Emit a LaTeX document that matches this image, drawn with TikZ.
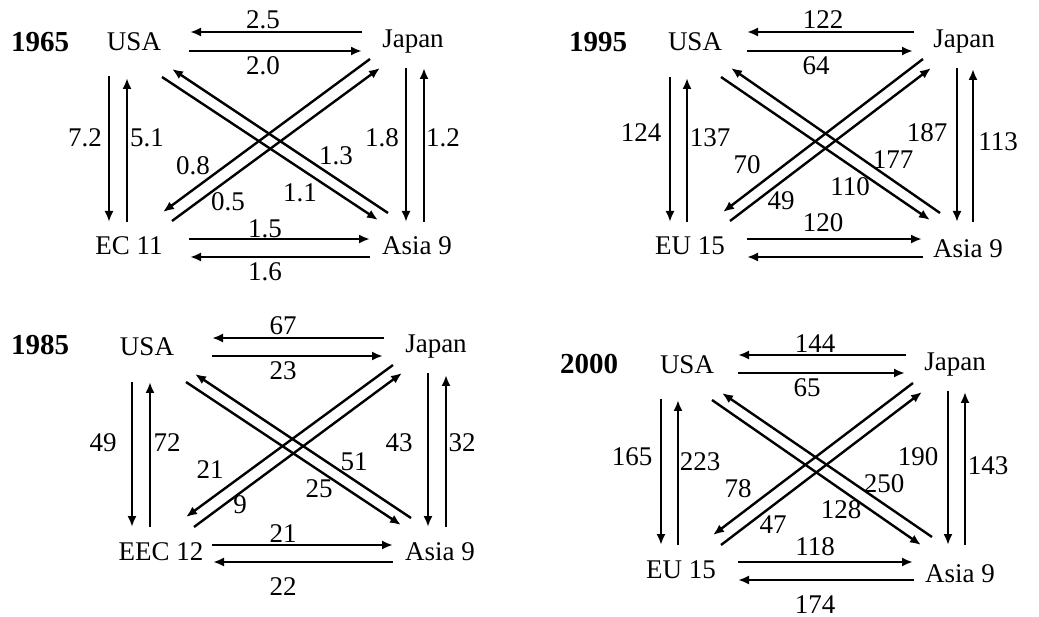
\documentclass[tikz,border=0pt]{standalone}
\usepackage{fontspec}
\setmainfont{Liberation Serif}
\usetikzlibrary{arrows.meta}
\tikzset{
  flowarrow/.style={line width=2.4pt,-{Latex[length=11pt,width=9pt]}},
  lbl/.style={anchor=base,inner sep=0pt,font=\fontsize{27}{30}\selectfont},
  yr/.style={anchor=base,inner sep=0pt,font=\fontsize{29}{32}\selectfont\bfseries}
}
\newcommand\flow[3]{\coordinate (#1s) at (#2); \coordinate (#1e) at (#3); \draw[flowarrow] (#1s) -- (#1e);}
\begin{document}
\begin{tikzpicture}[x=1pt,y=-1pt]
\useasboundingbox (0,0) rectangle (1039,617);
% ---------- 1965 ----------
\node[yr] (y1) at (40,52) {1965};
\node[lbl] (usa1) at (134,51) {USA};
\node[lbl] (jap1) at (413,48) {Japan};
\node[lbl] (ec1) at (129,255) {EC 11};
\node[lbl] (as1) at (417,255) {Asia 9};
\flow{a1}{362,32}{190,32}
\flow{b1}{189,51}{362,51}
\flow{c1}{109,76}{109,222}
\flow{d1}{127,222}{127,78}
\flow{e1}{406,68}{406,222}
\flow{f1}{424,222}{424,68}
\flow{g1}{189,239}{370,239}
\flow{h1}{370,257}{190,257}
\flow{i1}{162,77}{378,220}
\flow{j1}{388,213}{172,69}
\flow{k1}{370,59}{163,212}
\flow{l1}{172,221}{380,68}
\node[lbl] (n1a) at (263,29) {2.5};
\node[lbl] (n1b) at (263,75) {2.0};
\node[lbl] (n1c) at (85,147) {7.2};
\node[lbl] (n1d) at (147,147) {5.1};
\node[lbl] (n1e) at (382,147) {1.8};
\node[lbl] (n1f) at (443,147) {1.2};
\node[lbl] (n1g) at (193,175) {0.8};
\node[lbl] (n1h) at (228,211) {0.5};
\node[lbl] (n1i) at (336,165) {1.3};
\node[lbl] (n1j) at (300,202) {1.1};
\node[lbl] (n1k) at (265,238) {1.5};
\node[lbl] (n1l) at (265,281) {1.6};
% ---------- 1995 ----------
\node[yr] (y2) at (598,52) {1995};
\node[lbl] (usa2) at (695,51) {USA};
\node[lbl] (jap2) at (964,48) {Japan};
\node[lbl] (eu2) at (690,255) {EU 15};
\node[lbl] (as2) at (968,258) {Asia 9};
\flow{a2}{914,32}{747,32}
\flow{b2}{747,51}{913,51}
\flow{c2}{670,77}{670,222}
\flow{d2}{687,222}{687,78}
\flow{e2}{957,68}{957,222}
\flow{f2}{973,222}{973,69}
\flow{g2}{747,239}{922,239}
\flow{h2}{923,257}{747,257}
\flow{i2}{721,77}{930,220}
\flow{j2}{940,213}{731,68}
\flow{k2}{923,59}{723,212}
\flow{l2}{730,221}{931,68}
\node[lbl] (n2a) at (823,29) {122};
\node[lbl] (n2b) at (816,75) {64};
\node[lbl] (n2c) at (641,142) {124};
\node[lbl] (n2d) at (710,147) {137};
\node[lbl] (n2e) at (927,142) {187};
\node[lbl] (n2f) at (998,151) {113};
\node[lbl] (n2g) at (747,174) {70};
\node[lbl] (n2h) at (781,210) {49};
\node[lbl] (n2i) at (893,169) {177};
\node[lbl] (n2j) at (850,196) {110};
\node[lbl] (n2k) at (823,232) {120};
% ---------- 1985 ----------
\node[yr] (y3) at (40,355) {1985};
\node[lbl] (usa3) at (147,356) {USA};
\node[lbl] (jap3) at (436,353) {Japan};
\node[lbl] (ec3) at (161,560) {EEC 12};
\node[lbl] (as3) at (440,560) {Asia 9};
\flow{a3}{384,338}{212,338}
\flow{b3}{212,356}{383,356}
\flow{c3}{132,382}{132,527}
\flow{d3}{150,527}{150,382}
\flow{e3}{428,373}{428,527}
\flow{f3}{446,527}{446,375}
\flow{g3}{212,545}{393,545}
\flow{h3}{393,562}{213,562}
\flow{i3}{186,382}{401,525}
\flow{j3}{411,518}{195,374}
\flow{k3}{393,365}{186,517}
\flow{l3}{194,527}{402,373}
\node[lbl] (n3a) at (283,335) {67};
\node[lbl] (n3b) at (283,380) {23};
\node[lbl] (n3c) at (103,452) {49};
\node[lbl] (n3d) at (167,452) {72};
\node[lbl] (n3e) at (399,452) {43};
\node[lbl] (n3f) at (462,452) {32};
\node[lbl] (n3g) at (210,478) {21};
\node[lbl] (n3h) at (240,513) {9};
\node[lbl] (n3i) at (354,470) {51};
\node[lbl] (n3j) at (319,497) {25};
\node[lbl] (n3k) at (283,542) {21};
\node[lbl] (n3l) at (283,595) {22};
% ---------- 2000 ----------
\node[yr] (y4) at (589,374) {2000};
\node[lbl] (usa4) at (687,374) {USA};
\node[lbl] (jap4) at (955,371) {Japan};
\node[lbl] (eu4) at (681,578) {EU 15};
\node[lbl] (as4) at (960,582) {Asia 9};
\flow{a4}{906,355}{738,355}
\flow{b4}{738,373}{905,373}
\flow{c4}{661,399}{661,545}
\flow{d4}{678,545}{678,400}
\flow{e4}{948,391}{948,545}
\flow{f4}{965,545}{965,392}
\flow{g4}{738,562}{913,562}
\flow{h4}{914,580}{738,580}
\flow{i4}{712,400}{921,545}
\flow{j4}{932,537}{722,393}
\flow{k4}{913,383}{713,535}
\flow{l4}{721,545}{922,392}
\node[lbl] (n4a) at (815,353) {144};
\node[lbl] (n4b) at (807,397) {65};
\node[lbl] (n4c) at (632,465) {165};
\node[lbl] (n4d) at (700,470) {223};
\node[lbl] (n4e) at (918,465) {190};
\node[lbl] (n4f) at (988,474) {143};
\node[lbl] (n4g) at (738,497) {78};
\node[lbl] (n4h) at (773,533) {47};
\node[lbl] (n4i) at (884,492) {250};
\node[lbl] (n4j) at (841,518) {128};
\node[lbl] (n4k) at (815,555) {118};
\node[lbl] (n4l) at (815,613) {174};
\end{tikzpicture}
\end{document}
